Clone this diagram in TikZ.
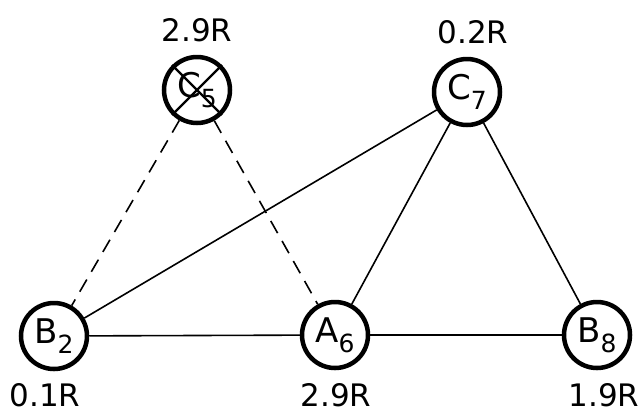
\documentclass[tikz,border=0pt]{standalone}
\usepackage{fontspec}
\setsansfont{DejaVu Sans}
\newcommand{\vsub}[1]{\raisebox{-0.3em}{\fontsize{25bp}{25bp}\selectfont #1}}
\begin{document}
\begin{tikzpicture}[x=1bp,y=-1bp,
  vtx/.style={circle, draw, line width=4.5bp, minimum size=66bp, inner sep=0pt,
              font=\sffamily\fontsize{34bp}{34bp}\selectfont},
  edge/.style={line width=1.6bp},
  dashedge/.style={edge, dash pattern=on 14bp off 9bp},
  val/.style={font=\sffamily\fontsize{31bp}{31bp}\selectfont, inner sep=0pt}]
\useasboundingbox (0,0) rectangle (642,417);
\fill[white] (0,0) rectangle (642,417);

% vertices
\node[vtx] (c5) at (197,90) {C\vsub{5}};
\node[vtx] (c7) at (467,92) {C\vsub{7}};
\node[vtx] (b2) at (54,336) {B\vsub{2}};
\node[vtx] (a6) at (335,335) {A\vsub{6}};
\node[vtx] (b8) at (597,335) {B\vsub{8}};

% cross through the removed vertex
\draw[edge, line width=2.2bp] (c5.north west) -- (c5.south east);
\draw[edge, line width=2.2bp] (c5.north east) -- (c5.south west);

% edges
\draw[edge] (b2) -- (a6);
\draw[edge] (a6) -- (b8);
\draw[edge] (b2) -- (c7);
\draw[edge] (a6) -- (c7);
\draw[edge] (c7) -- (b8);
\draw[dashedge] (c5) -- (b2);
\draw[dashedge] (c5) -- (a6);

% values
\node[val] (vc5) at (197,30) {2.9R};
\node[val] (vc7) at (473,32.5) {0.2R};
\node[val] (vb2) at (45,395) {0.1R};
\node[val] (va6) at (336,395) {2.9R};
\node[val] (vb8) at (604,395) {1.9R};
\end{tikzpicture}
\end{document}
